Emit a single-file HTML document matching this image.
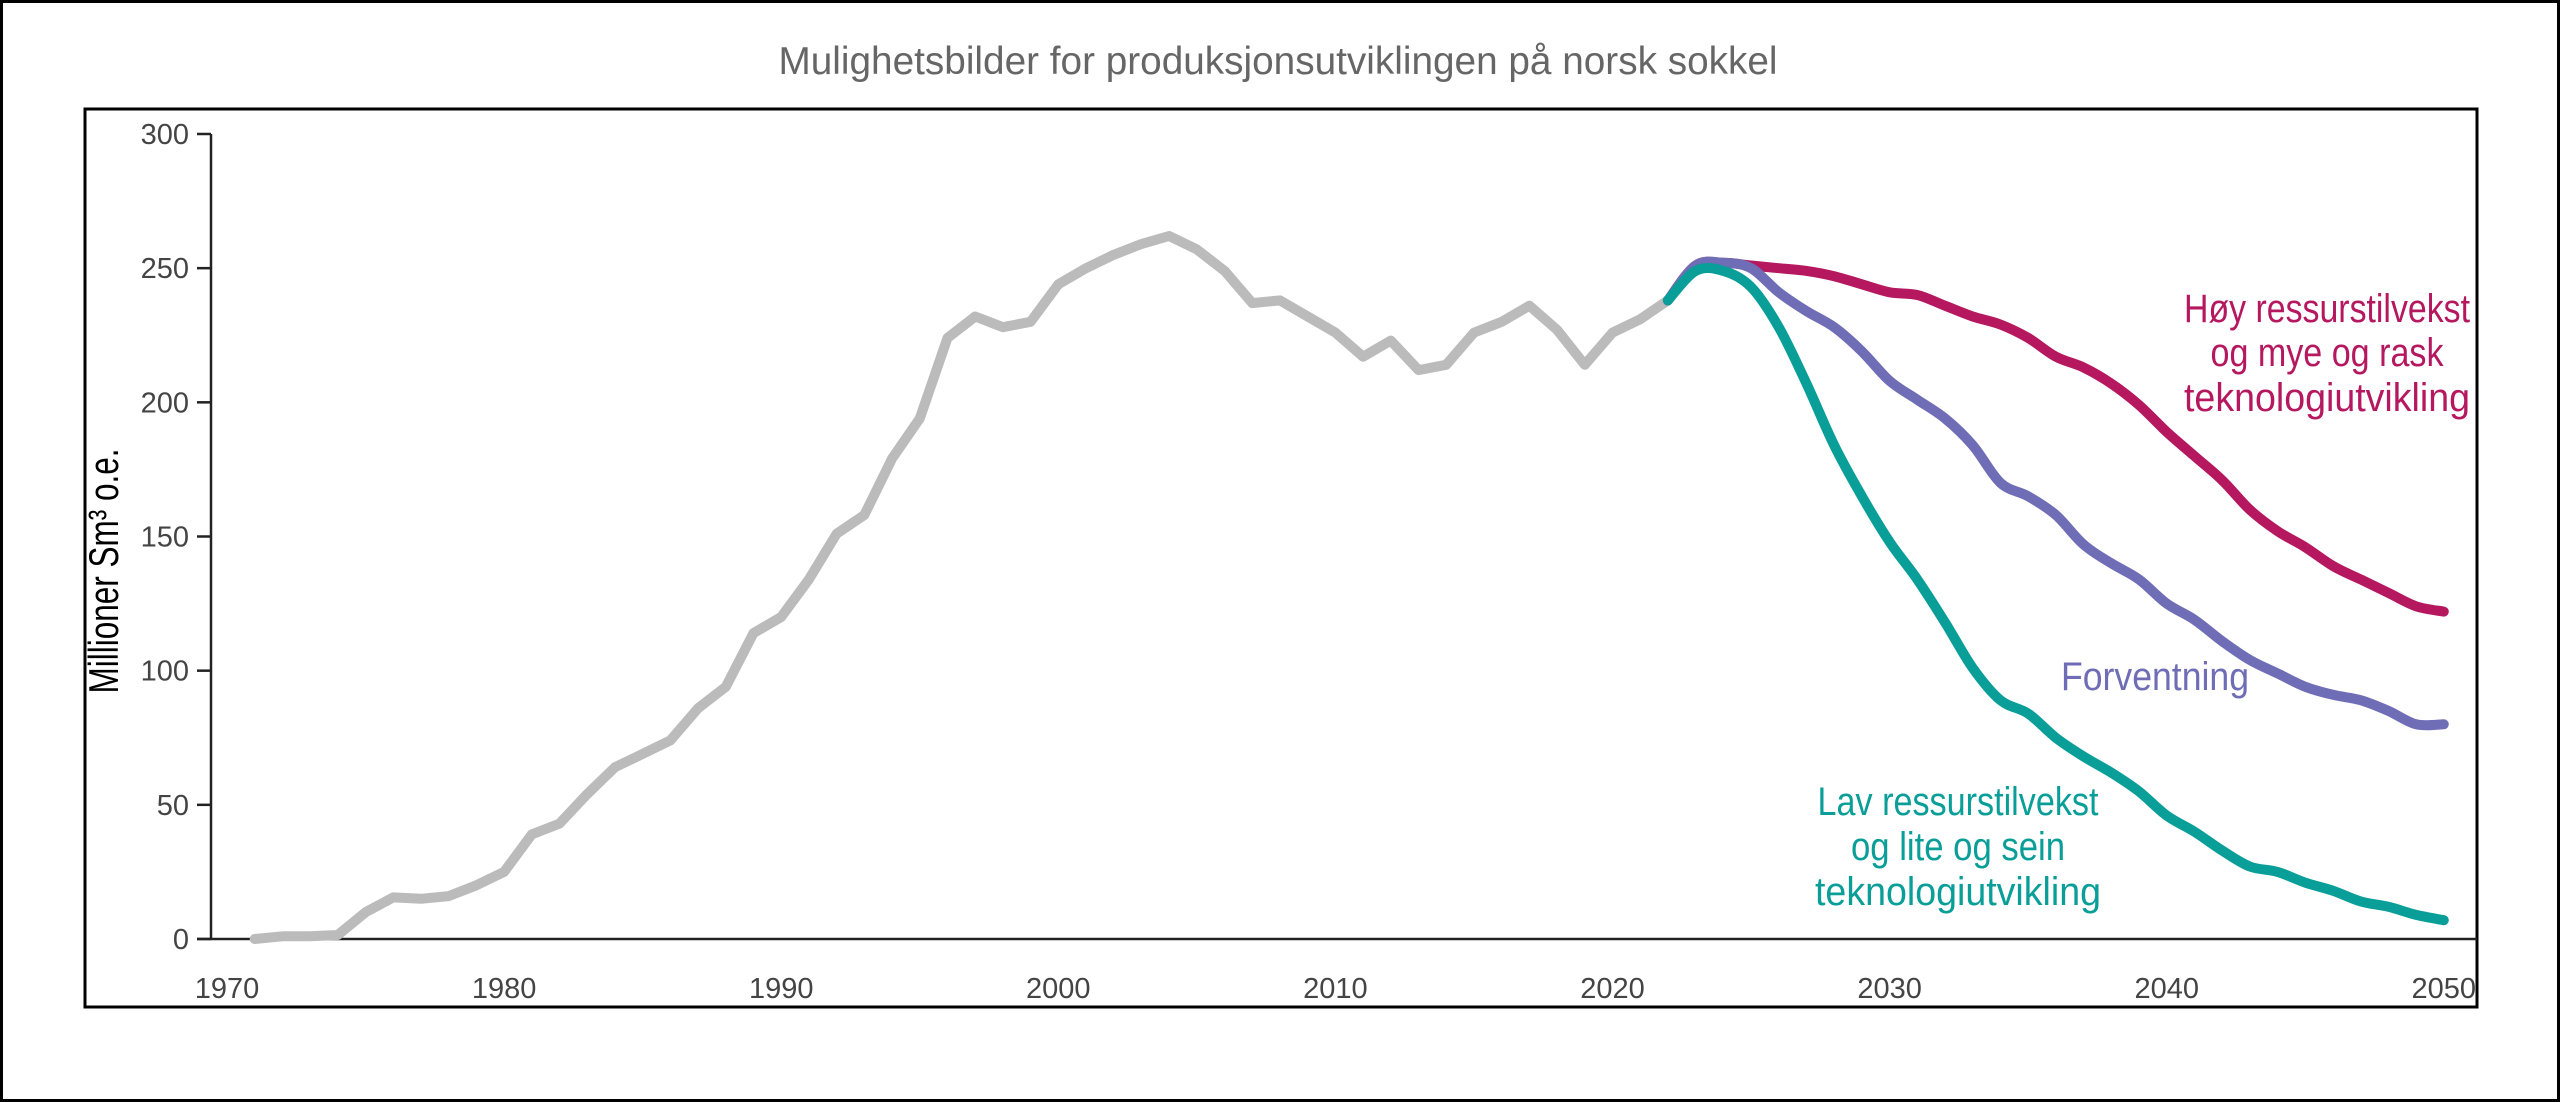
<!DOCTYPE html>
<html><head><meta charset="utf-8"><style>
html,body{margin:0;padding:0;background:#fff}
svg{display:block}
</style></head><body>
<svg width="2560" height="1102" viewBox="0 0 2560 1102" xmlns="http://www.w3.org/2000/svg">
<rect x="1.5" y="1.5" width="2557" height="1099" fill="#fff" stroke="#000" stroke-width="3"/>
<text x="1278" y="74" text-anchor="middle" font-family="Liberation Sans, sans-serif" font-size="39" fill="#666" textLength="999" lengthAdjust="spacingAndGlyphs">Mulighetsbilder for produksjonsutviklingen på norsk sokkel</text>
<rect x="85" y="109" width="2392" height="898" fill="none" stroke="#000" stroke-width="3"/>
<g id="axes" stroke="#222" stroke-width="2.5"></g>
<g id="labels" font-family="Liberation Sans, sans-serif" font-size="29" fill="#444"></g>
<text transform="translate(118,571) rotate(-90)" text-anchor="middle" font-family="Liberation Sans, sans-serif" font-size="42" fill="#000" textLength="245" lengthAdjust="spacingAndGlyphs">Millioner Sm³ o.e.</text>
<g id="lines" fill="none" stroke-width="10" stroke-linejoin="round" stroke-linecap="round"></g>
<g font-family="Liberation Sans, sans-serif" font-size="40" text-anchor="middle" lengthAdjust="spacingAndGlyphs">
<text x="2327" y="322" fill="#b5185f" textLength="286" lengthAdjust="spacingAndGlyphs">Høy ressurstilvekst</text>
<text x="2327" y="366" fill="#b5185f" textLength="233" lengthAdjust="spacingAndGlyphs">og mye og rask</text>
<text x="2327" y="411" fill="#b5185f" textLength="286" lengthAdjust="spacingAndGlyphs">teknologiutvikling</text>
<text x="2155" y="690" fill="#6f6db5" textLength="188" lengthAdjust="spacingAndGlyphs">Forventning</text>
<text x="1958" y="815" fill="#0a9e98" textLength="281" lengthAdjust="spacingAndGlyphs">Lav ressurstilvekst</text>
<text x="1958" y="860" fill="#0a9e98" textLength="214" lengthAdjust="spacingAndGlyphs">og lite og sein</text>
<text x="1958" y="905" fill="#0a9e98" textLength="286" lengthAdjust="spacingAndGlyphs">teknologiutvikling</text>
</g>
</svg>
<script>
var NS="http://www.w3.org/2000/svg";
function X(y){return 227+(y-1970)*27.71}
function Y(v){return 939-v*(805/300)}
function el(p,t,a,txt){var e=document.createElementNS(NS,t);for(var k in a)e.setAttribute(k,a[k]);if(txt!==undefined)e.textContent=txt;document.getElementById(p).appendChild(e);}
el("axes","line",{x1:211,y1:134,x2:211,y2:940});
el("axes","line",{x1:197,y1:939,x2:2477,y2:939});
for(var v=0;v<=300;v+=50){el("axes","line",{x1:197,y1:Y(v),x2:211,y2:Y(v)});el("labels","text",{x:189,y:Y(v)+10,"text-anchor":"end"},String(v));}
for(var y=1970;y<=2050;y+=10){el("labels","text",{x:X(y),y:998,"text-anchor":"middle"},String(y));}
function line(start,vals,col,smooth){var P=[];for(var i=0;i<vals.length;i++)P.push([X(start+i),Y(vals[i])]);
var d="M"+P[0][0].toFixed(1)+","+P[0][1].toFixed(1);
for(var i=1;i<P.length;i++){if(!smooth){d+="L"+P[i][0].toFixed(1)+","+P[i][1].toFixed(1);continue;}
var p0=P[Math.max(0,i-2)],p1=P[i-1],p2=P[i],p3=P[Math.min(P.length-1,i+1)];
var c1=[p1[0]+(p2[0]-p0[0])/6,p1[1]+(p2[1]-p0[1])/6],c2=[p2[0]-(p3[0]-p1[0])/6,p2[1]-(p3[1]-p1[1])/6];
d+="C"+c1[0].toFixed(1)+","+c1[1].toFixed(1)+" "+c2[0].toFixed(1)+","+c2[1].toFixed(1)+" "+p2[0].toFixed(1)+","+p2[1].toFixed(1);}
el("lines","path",{d:d,stroke:col});}
line(1971,[0,1,1,1.5,10,15.5,15,16,20,25,39,43,54,64,69,74,86,94,114,120,134,151,158,179,194,224,232,228,230,244,250,255,259,262,257,249,237,238,232,226,217,223,212,214,226,230,236,227,214,226,231,238],"#bbbbbb",false);
line(2022,[238,251,252,251,250,249,247,244,241,240,236,232,229,224,217,213,207,199,189,180,171,160,152,146,139,134,129,124,122],"#b5185f",true);
line(2022,[238,251,252,250,241,234,228,219,208,201,194,184,170,165,158,147,140,134,125,119,111,104,99,94,91,89,85,80,80],"#6f6db5",true);
line(2022,[238,249,249,243,228,207,184,165,148,134,118,101,89,84,75,68,62,55,46,40,33,27,25,21,18,14,12,9,7],"#0a9e98",true);
</script>
</body></html>
